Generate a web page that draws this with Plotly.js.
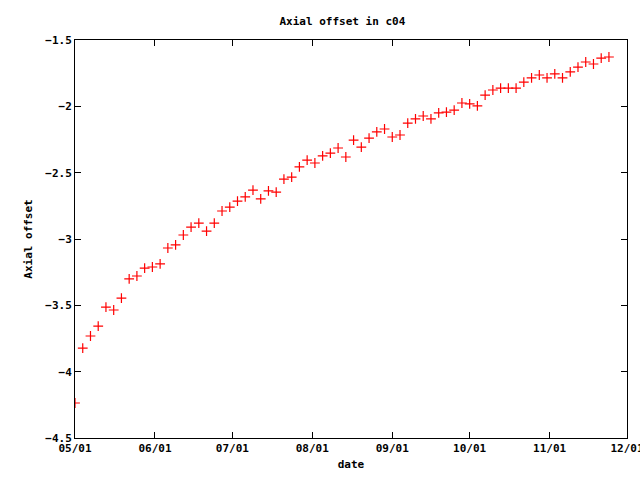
<!DOCTYPE html>
<html>
<head>
<script src="https://cdn.plot.ly/plotly-3.0.1.min.js"></script>
<style>body{margin:0}</style>
</head>
<body>
<div id="plot"></div>
<script>
var dates = ["05-01","05-04","05-07","05-10","05-13","05-16","05-19","05-22","05-25","05-28",
  "05-31","06-03","06-06","06-09","06-12","06-15","06-18","06-21","06-24","06-27",
  "06-30","07-03","07-06","07-09","07-12","07-15","07-18","07-21","07-24","07-27",
  "07-30","08-02","08-05","08-08","08-11","08-14","08-17","08-20","08-23","08-26",
  "08-29","09-01","09-04","09-07","09-10","09-13","09-16","09-19","09-22","09-25",
  "09-28","10-01","10-04","10-07","10-10","10-13","10-16","10-19","10-22","10-25",
  "10-28","10-31","11-03","11-06","11-09","11-12","11-15","11-18","11-21","11-24"];
var offset = [-4.236,-3.822,-3.731,-3.656,-3.513,-3.535,-3.445,-3.301,-3.279,-3.219,
  -3.211,-3.188,-3.068,-3.045,-2.970,-2.910,-2.880,-2.940,-2.880,-2.789,
  -2.759,-2.714,-2.683,-2.631,-2.698,-2.638,-2.646,-2.548,-2.533,-2.457,
  -2.405,-2.427,-2.374,-2.352,-2.314,-2.382,-2.254,-2.307,-2.239,-2.193,
  -2.171,-2.231,-2.216,-2.126,-2.095,-2.073,-2.095,-2.050,-2.043,-2.028,
  -1.975,-1.982,-1.997,-1.915,-1.877,-1.862,-1.862,-1.862,-1.817,-1.786,
  -1.764,-1.786,-1.756,-1.786,-1.741,-1.704,-1.666,-1.681,-1.636,-1.628];
var xTicks = ["05/01","06/01","07/01","08/01","09/01","10/01","11/01","12/01"];

var trace = {
    type: "scatter",
    mode: "markers",
    x: dates.map(function(d){ return "2009-" + d; }),
    y: offset,
    marker: {
        symbol: "cross-thin-open",
        size: 7,
        color: "rgb(255,0,0)",
        line: {color: "rgb(255,0,0)", width: 1.2}
    },
    showlegend: false
};
var fnt = {family: "DejaVu Sans Mono, monospace", size: 11, color: "#000", weight: "bold"};
var layout = {
    width: 640,
    height: 480,
    paper_bgcolor: "#fff",
    plot_bgcolor: "#fff",
    margin: {l: 75, r: 13, t: 40, b: 42},
    title: {text: "Axial offset in c04", font: fnt, x: 0.535, y: 0.965},
    font: fnt,
    xaxis: {
        type: "date",
        range: ["2009-05-01", "2009-12-01"],
        tickvals: xTicks.map(function(t){ return "2009-" + t.replace("/", "-"); }),
        ticktext: xTicks,
        ticklabeloverflow: "allow",
        ticks: "inside", ticklen: 6, tickcolor: "#000",
        showline: true, linecolor: "#000", linewidth: 1, mirror: "ticks",
        showgrid: false, zeroline: false,
        tickfont: fnt,
        title: {text: "date", font: fnt, standoff: 6}
    },
    yaxis: {
        range: [-4.5, -1.5],
        dtick: 0.5,
        tickformat: "~g",
        ticks: "inside", ticklen: 6, tickcolor: "#000",
        showline: true, linecolor: "#000", linewidth: 1, mirror: "ticks",
        showgrid: false, zeroline: false,
        tickfont: fnt,
        title: {text: "Axial offset", font: fnt, standoff: 10}
    }
};
Plotly.newPlot("plot", [trace], layout, {displayModeBar: false});
</script>
</body>
</html>
